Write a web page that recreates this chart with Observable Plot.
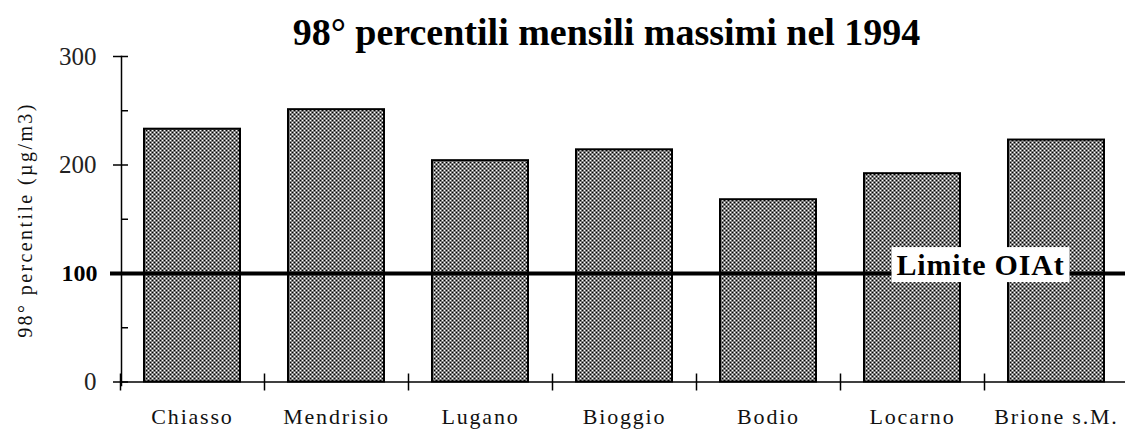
<!DOCTYPE html>
<html>
<head>
<meta charset="utf-8">
<script src="https://cdn.jsdelivr.net/npm/d3@7"></script>
<script src="https://cdn.jsdelivr.net/npm/@observablehq/plot@0.6"></script>
<style>
  html, body { margin: 0; padding: 0; background: #fff; }
  #chart svg { display: block; }
  .xlab text { letter-spacing: 1.8px; }
  .ylab text { letter-spacing: 2.4px; }
  .limit text { letter-spacing: 0.8px; }
</style>
</head>
<body>
<div id="chart"></div>
<script>
const title = "98° percentili mensili massimi nel 1994";
const yLabel = "98° percentile (µg/m3)";
const categories = ["Chiasso", "Mendrisio", "Lugano", "Bioggio", "Bodio", "Locarno", "Brione s.M."];
const values = [233, 251, 204, 214, 168, 192, 223];
const limitValue = 100;
const limitLabel = "Limite OIAt";
const majorTicks = [0, 200, 300];
const minorTicks = [50, 150, 250];

const data = categories.map((c, i) => ({station: c, value: values[i]}));

const W = 1125, H = 429;
const x0 = 120.5, x1 = 1128.5;
const step = (x1 - x0) / categories.length;
const blank = () => "";

const chart = Plot.plot({
  width: W,
  height: H,
  marginLeft: 121,
  marginRight: 0,
  marginTop: 56,
  marginBottom: 44,
  style: {overflow: "visible", background: "#fff", fontFamily: "'Liberation Serif', 'Times New Roman', serif"},
  x: {type: "band", domain: categories, range: [x0, x1], paddingInner: 0.33, paddingOuter: 0.165, axis: null},
  y: {domain: [0, 300], range: [381.5, 56], axis: null},
  marks: [
    Plot.barY(data, {x: "station", y: "value", fill: "url(#dots)", stroke: "#000", strokeWidth: 2}),
    // y axis line
    Plot.frame({anchor: "left", stroke: "#000", strokeWidth: 1.5}),
    // x axis line
    Plot.ruleY([0], {stroke: "#000", strokeWidth: 1.5}),
    // x ticks at category boundaries
    Plot.ruleX(categories, {x: d => d, dx: -step / 2, y1: 0, y2: 0, insetTop: -8, insetBottom: -9, stroke: "#000", strokeWidth: 1.5}),
    // y major ticks (left part)
    Plot.axisY({ticks: [0, 100, 200, 300], tickSize: 8, tickFormat: blank, label: null, stroke: "#000", strokeWidth: 1.5}),
    // y ticks (right part)
    Plot.axisY({ticks: [...majorTicks, ...minorTicks], tickSize: 7, dx: 7, tickFormat: blank, label: null, stroke: "#000", strokeWidth: 1.5}),
    // y tick labels
    Plot.axisY({ticks: majorTicks, tickSize: 0, tickPadding: 25, label: null, fontSize: 25, fill: "#222"}),
    Plot.axisY({ticks: [limitValue], tickSize: 0, tickPadding: 24, label: null, fontSize: 24, fontWeight: "bold", fill: "#000"}),
    // limit line
    Plot.ruleY([limitValue], {stroke: "#000", strokeWidth: 4, insetLeft: -11}),
    // limit label
    Plot.text([limitLabel], {x: () => categories[6], y: () => limitValue, dx: -step / 2 - 4, dy: -8, text: d => d,
      fontSize: 30, fontWeight: "bold", fill: "#000", className: "limit"}),
    // x labels
    Plot.text(categories, {x: d => d, frameAnchor: "bottom", lineAnchor: "middle", dy: 31, text: d => d, fontSize: 22, fill: "#111", className: "xlab"}),
    // y label
    Plot.text([yLabel], {frameAnchor: "left", dx: -96, dy: -1, rotate: -90, textAnchor: "middle", text: d => d, fontSize: 20, fill: "#111", className: "ylab"}),
    // title
    Plot.text([title], {frameAnchor: "top", lineAnchor: "top", dx: -17, dy: -38, text: d => d, fontSize: 38, fontWeight: "bold", fill: "#000"})
  ]
});

// pattern definition
const ns = "http://www.w3.org/2000/svg";
const defs = document.createElementNS(ns, "defs");
defs.innerHTML = `<pattern id="dots" x="0" y="0" width="4" height="4" patternUnits="userSpaceOnUse">
  <rect width="4" height="4" fill="#7c7c7c"/>
  <rect x="0" y="0" width="1" height="1" fill="#000"/>
  <rect x="2" y="2" width="1" height="1" fill="#000"/>
  <rect x="2" y="0" width="1" height="1" fill="#fff"/>
  <rect x="0" y="2" width="1" height="1" fill="#fff"/>
</pattern>`;
chart.insertBefore(defs, chart.firstChild);
document.getElementById("chart").appendChild(chart);

// white box behind limit label
const lt = chart.querySelector(".limit text");
if (lt) {
  const bb = lt.getBBox();
  const r = document.createElementNS(ns, "rect");
  r.setAttribute("x", bb.x - 5);
  r.setAttribute("y", bb.y - 1);
  r.setAttribute("width", bb.width + 10);
  r.setAttribute("height", bb.height + 2);
  r.setAttribute("fill", "#fff");
  const tf = lt.getAttribute("transform");
  if (tf) r.setAttribute("transform", tf);
  lt.parentNode.insertBefore(r, lt);
}
</script>
</body>
</html>
